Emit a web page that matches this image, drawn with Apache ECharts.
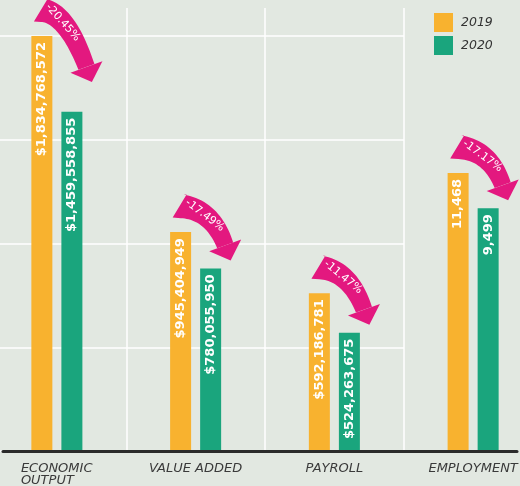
<!DOCTYPE html>
<html>
<head>
<meta charset="utf-8">
<script src="https://cdn.jsdelivr.net/npm/echarts@6/dist/echarts.min.js"></script>
<style>
html,body{margin:0;padding:0;background:#E2E8E1;}
#c{width:520px;height:486px;}
</style>
</head>
<body>
<div id="c"></div>
<script>
// ---- data ----
const categories = ['ECONOMIC\nOUTPUT', 'VALUE ADDED', 'PAYROLL', 'EMPLOYMENT'];
const seriesNames = ['2019', '2020'];
// bar heights as drawn (chart units, one unit = one gridline step)
const height2019 = [4.0, 2.11, 1.52, 2.68];
const height2020 = [3.27, 1.76, 1.14, 2.34];
// values printed on the bars
const labels2019 = ['$1,834,768,572', '$945,404,949', '$592,186,781', '11,468'];
const labels2020 = ['$1,459,558,855', '$780,055,950', '$524,263,675', '9,499'];
// percentage change on the arrows
const changeLabels = ['-20.45%', '-17.49%', '-11.47%', '-17.17%'];

const ORANGE = '#F8B22F', GREEN = '#1AA57D', PINK = '#E3187F', DARK = '#2B2B2B';

const chart = echarts.init(document.getElementById('c'), null, {renderer: 'canvas'});

function bez(p0, p1, p2, t) {
  const u = 1 - t;
  return [u*u*p0[0] + 2*u*t*p1[0] + t*t*p2[0], u*u*p0[1] + 2*u*t*p1[1] + t*t*p2[1]];
}
function bezD(p0, p1, p2, t) {
  return [2*(1-t)*(p1[0]-p0[0]) + 2*t*(p2[0]-p1[0]), 2*(1-t)*(p1[1]-p0[1]) + 2*t*(p2[1]-p1[1])];
}

function renderArrow(params, api) {
  const idx = api.value(0);
  const cx = api.coord([idx, 0])[0];
  const top19 = api.coord([idx, api.value(1)])[1];
  const top20 = api.coord([idx, api.value(2)])[1];
  const S = [cx - 16, top19 - 26];
  const tipY = Math.min(top20 - 8, S[1] + 72);
  const T = [cx + 35, tipY];
  let dir = [0.34, 0.94];
  const dl = Math.hypot(dir[0], dir[1]); dir = [dir[0]/dl, dir[1]/dl];
  const headLen = 16, headW = 34;
  const H = [T[0] - headLen*dir[0], T[1] - headLen*dir[1]];
  const a = 0.08, b = dir[0]/dir[1];
  const u = (H[0] - S[0] - b*(H[1] - S[1])) / (1 - a*b);
  const C = [S[0] + u, S[1] + a*u];
  const N = 24, lower = [], upper = [];
  for (let i = 0; i <= N; i++) {
    const t = i / N;
    const p = bez(S, C, H, t), d = bezD(S, C, H, t);
    const l = Math.hypot(d[0], d[1]);
    const tg = [d[0]/l, d[1]/l];
    const n = [-tg[1], tg[0]];
    const w = (24 - 7*t) / 2;
    let lo = [p[0] + n[0]*w, p[1] + n[1]*w];
    let up = [p[0] - n[0]*w, p[1] - n[1]*w];
    if (i === 0) {
      const k = 6;
      lo = [lo[0] - tg[0]*k, lo[1] - tg[1]*k];
      up = [up[0] + tg[0]*k, up[1] + tg[1]*k];
    }
    lower.push(lo);
    upper.push(up);
  }
  const band = lower.concat(upper.reverse());
  const nh = [-dir[1], dir[0]];
  const head = [
    [H[0] + nh[0]*headW/2, H[1] + nh[1]*headW/2],
    T,
    [H[0] - nh[0]*headW/2, H[1] - nh[1]*headW/2]
  ];
  const M = bez(S, C, H, 0.45), Md = bezD(S, C, H, 0.45);
  const ang = Math.atan2(Md[1], Md[0]);
  return {
    type: 'group',
    children: [
      {type: 'polygon', shape: {points: band}, style: {fill: PINK}},
      {type: 'polygon', shape: {points: head}, style: {fill: PINK}},
      {type: 'text', x: M[0], y: M[1], rotation: -ang,
       style: {text: changeLabels[params.dataIndex], fill: '#FFFFFF', fontSize: 11,
               fontFamily: 'DejaVu Sans', align: 'center', verticalAlign: 'middle'}}
    ]
  };
}

const option = {
  backgroundColor: '#E2E8E1',
  animation: false,
  legend: {
    orient: 'vertical', left: 434, top: 13, padding: 0,
    itemWidth: 19, itemHeight: 19, itemGap: 4, icon: 'rect',
    data: seriesNames,
    textStyle: {fontFamily: 'DejaVu Sans', fontStyle: 'italic', fontSize: 12.5, color: '#333333', padding: [0,0,0,3]}
  },
  grid: [
    {left: -12.5, width: 555, top: 8, bottom: 35, outerBoundsMode: 'none', containLabel: false},
    {left: 0, width: 404, top: 36, bottom: 35, outerBoundsMode: 'none', containLabel: false},
    {left: 3, right: 3, top: 450, bottom: 35, outerBoundsMode: 'none', containLabel: false}
  ],
  xAxis: [
    {type: 'category', gridIndex: 0, data: categories,
     axisLine: {show: false}, axisTick: {show: false},
     splitLine: {show: true, interval: 0, lineStyle: {color: '#FFFFFF', width: 1.5}},
     axisLabel: {
       interval: 0, margin: 12, color: '#3A3A3A', fontFamily: 'DejaVu Sans', fontStyle: 'italic', fontSize: 13,
       lineHeight: 12,
       formatter: function (v) {
         if (v.indexOf('\n') >= 0) return v.split('\n').map(s => '{l|' + s + '}').join('\n');
         return v;
       },
       rich: {l: {width: 72, align: 'left', fontFamily: 'DejaVu Sans', fontStyle: 'italic', fontSize: 13, color: '#3A3A3A', lineHeight: 12}}
     }},
    {type: 'value', gridIndex: 1, min: 0, max: 1, show: false},
    {type: 'value', gridIndex: 2, min: 0, max: 1, z: 10,
     axisLine: {show: true, lineStyle: {color: DARK, width: 3}},
     axisTick: {show: false}, axisLabel: {show: false}, splitLine: {show: false}}
  ],
  yAxis: [
    {type: 'value', gridIndex: 0, min: 0, max: 4.27, show: false, splitLine: {show: false}},
    {type: 'value', gridIndex: 1, min: 0, max: 4, interval: 1,
     axisLine: {show: false}, axisTick: {show: false}, axisLabel: {show: false},
     splitLine: {show: true, lineStyle: {color: '#FFFFFF', width: 1.5}}},
    {type: 'value', gridIndex: 2, min: 0, max: 1, show: false}
  ],
  series: [
    {name: '2019', type: 'bar', xAxisIndex: 0, yAxisIndex: 0, data: height2019,
     barWidth: 21, barGap: '43%', itemStyle: {color: ORANGE}, z: 3,
     label: {show: true, position: 'insideTop', distance: 6, rotate: 90, align: 'right', verticalAlign: 'middle',
             color: '#FFFFFF', fontFamily: 'DejaVu Sans', fontWeight: 'bold', fontSize: 13,
             formatter: p => labels2019[p.dataIndex]}},
    {name: '2020', type: 'bar', xAxisIndex: 0, yAxisIndex: 0, data: height2020,
     barWidth: 21, itemStyle: {color: GREEN}, z: 3,
     label: {show: true, position: 'insideTop', distance: 6, rotate: 90, align: 'right', verticalAlign: 'middle',
             color: '#FFFFFF', fontFamily: 'DejaVu Sans', fontWeight: 'bold', fontSize: 13,
             formatter: p => labels2020[p.dataIndex]}},
    {type: 'custom', xAxisIndex: 0, yAxisIndex: 0, z: 5,
     data: categories.map((c, i) => [i, height2019[i], height2020[i]]),
     renderItem: renderArrow, silent: true}
  ]
};
chart.setOption(option);
</script>
</body>
</html>
